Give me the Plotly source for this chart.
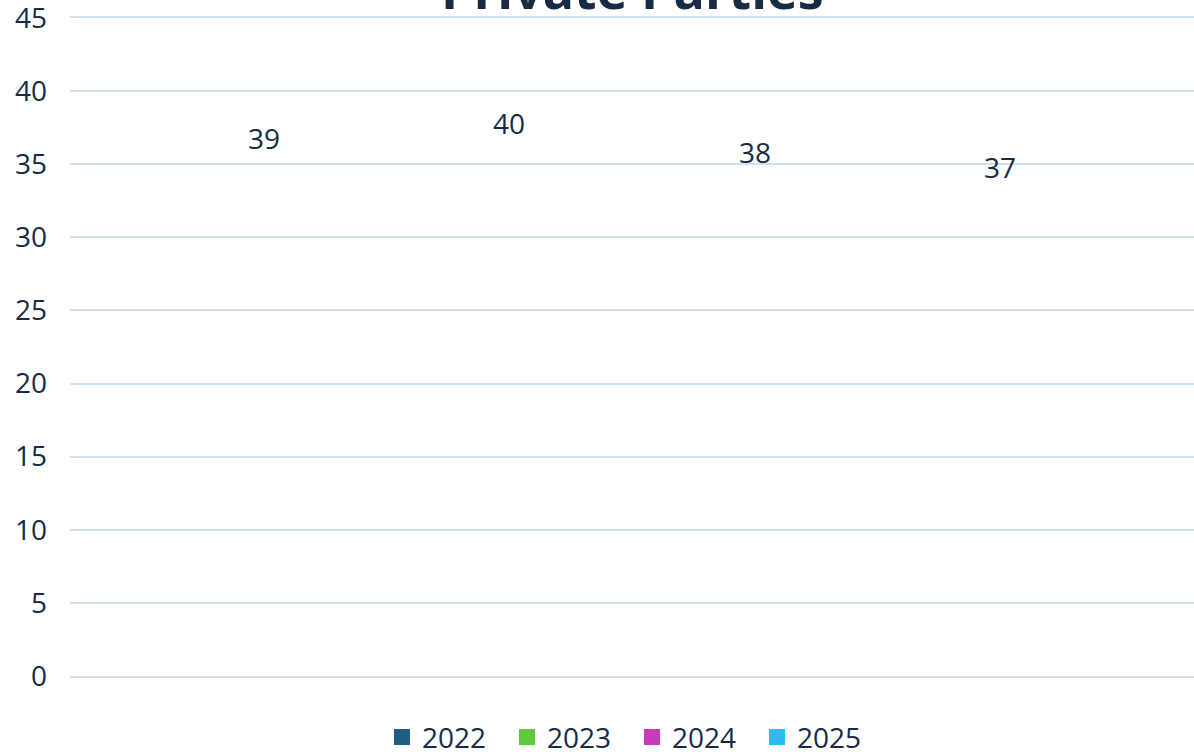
import plotly.graph_objects as go

title = "Private Parties"
years = ["2022", "2023", "2024", "2025"]
values = [39, 40, 38, 37]
colors = ["#1d5f80", "#5fcb3c", "#c63cbb", "#2bbcef"]
category = [""]
y_ticks = [0, 5, 10, 15, 20, 25, 30, 35, 40, 45]

text_color = "#172b45"
grid_color = "#cfe1f1"
font_family = "Open Sans, Segoe UI, sans-serif"
bargap = 0.128

fig = go.Figure()
for yr, v in zip(years, values):
    fig.add_trace(go.Bar(
        x=category, y=[v], name=yr, showlegend=False,
        marker=dict(color="rgba(0,0,0,0)", line=dict(width=0)),
        hoverinfo="y",
    ))
for yr, c in zip(years, colors):
    fig.add_trace(go.Scatter(
        x=[None], y=[None], mode="markers", name=yr,
        marker=dict(symbol="square", size=19, color=c),
    ))

n = len(years)
slot = (1 - bargap) / n
for i, v in enumerate(values):
    xc = -0.5 + bargap / 2 + slot * (i + 0.5)
    fig.add_annotation(
        x=xc, y=v, xref="x", yref="y", text=str(v), showarrow=False,
        yshift=-32, font=dict(size=28, color=text_color, family=font_family),
    )

fig.add_annotation(
    x=0.5, y=1, xref="paper", yref="paper", text="<b>" + title + "</b>",
    showarrow=False, yanchor="middle", yshift=30,
    font=dict(size=52, color=text_color, family=font_family),
)

fig.update_layout(
    width=1194, height=752,
    margin=dict(l=70, r=0, t=18, b=76, autoexpand=False),
    paper_bgcolor="white", plot_bgcolor="white",
    barmode="group", bargap=bargap, bargroupgap=0,
    font=dict(family=font_family, size=28, color=text_color),
    showlegend=True,
    legend=dict(orientation="h", x=0.5, xanchor="center", y=-0.055, yanchor="top",
                font=dict(size=28, color=text_color), itemwidth=30,
                entrywidth=80, entrywidthmode="pixels", tracegroupgap=0),
    xaxis=dict(range=[-0.5, 0.5], showticklabels=False, showgrid=False,
               zeroline=False, showline=True, linecolor=grid_color, linewidth=2,
               mirror=True, type="category", automargin=False),
    yaxis=dict(range=[0, 45], tickvals=y_ticks, showgrid=True, gridcolor=grid_color,
               gridwidth=2, zeroline=False, showline=False, automargin=False,
               ticklabeloverflow="allow",
               tickfont=dict(size=28, color=text_color), ticklabelstandoff=22),
)

fig.write_html(
    "out.html",
    config={"displayModeBar": False},
    post_script="document.body.style.margin='0';document.body.style.overflow='hidden';",
)
